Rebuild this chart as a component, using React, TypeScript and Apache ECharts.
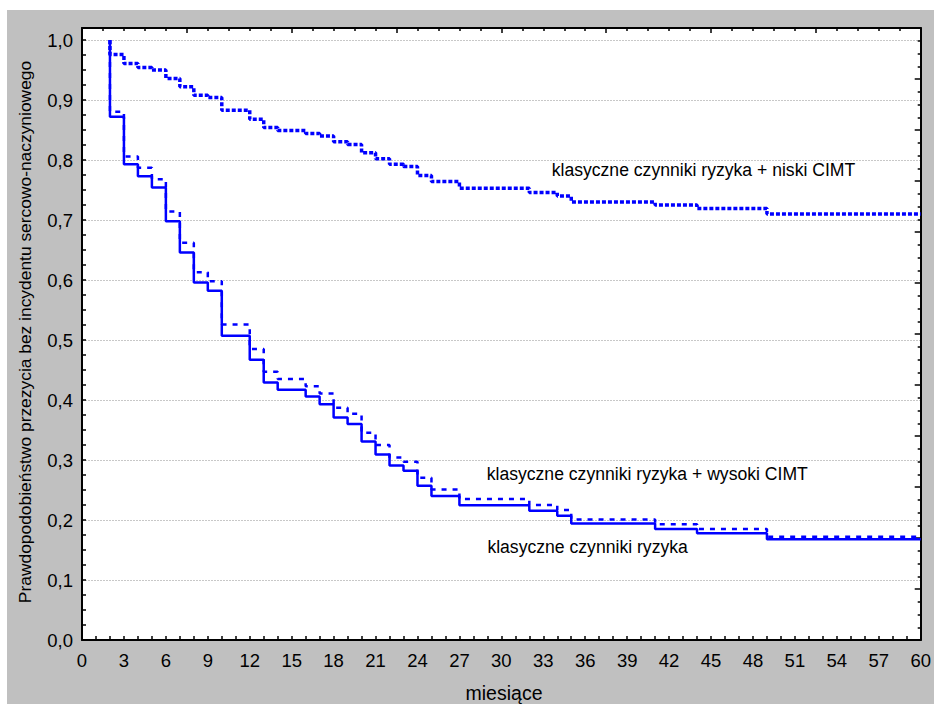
import React, { useEffect, useRef } from "react";
import * as echarts from "echarts";

// Czas (miesiące) w którym zmienia się krzywa przeżycia
const months = [2, 2, 3, 4, 5, 6, 7, 8, 9, 10, 12, 13, 14, 16, 17, 18, 19, 20, 21, 22, 23, 24, 25, 27, 32, 34, 35, 41, 44, 49, 60];

// klasyczne czynniki ryzyka (linia ciągła)
const survClassic = [1.0, 0.872, 0.793, 0.773, 0.754, 0.698, 0.646, 0.596, 0.582, 0.507, 0.467, 0.429, 0.417, 0.406, 0.393, 0.371, 0.36, 0.331, 0.309, 0.291, 0.282, 0.257, 0.24, 0.2245, 0.2155, 0.207, 0.194, 0.185, 0.178, 0.168, 0.168];

// klasyczne czynniki ryzyka + wysoki CIMT (linia przerywana)
const survHighCimt = [1.0, 0.8805, 0.806, 0.787, 0.768, 0.714, 0.662, 0.613, 0.598, 0.526, 0.485, 0.447, 0.435, 0.423, 0.411, 0.387, 0.377, 0.3455, 0.325, 0.304, 0.297, 0.2705, 0.251, 0.235, 0.225, 0.2167, 0.201, 0.193, 0.185, 0.172, 0.172];

// klasyczne czynniki ryzyka + niski CIMT (linia kropkowana)
const survLowCimt = [1.0, 0.976, 0.961, 0.954, 0.95, 0.936, 0.922, 0.908, 0.904, 0.883, 0.868, 0.854, 0.849, 0.844, 0.84, 0.8305, 0.826, 0.812, 0.802, 0.793, 0.789, 0.774, 0.764, 0.753, 0.746, 0.74, 0.73, 0.725, 0.719, 0.71, 0.71];

const seriesNames = [
  "klasyczne czynniki ryzyka",
  "klasyczne czynniki ryzyka + wysoki CIMT",
  "klasyczne czynniki ryzyka + niski CIMT",
];

const yTitle = "Prawdopodobieństwo przezycia bez incydentu sercowo-naczyniowego";
const xTitle = "miesiące";

// anchors of curve labels, in data units (months, probability)
const labelAnchors = [
  { name: seriesNames[2], t: 33.6, v: 0.783 },
  { name: seriesNames[1], t: 28.95, v: 0.276 },
  { name: seriesNames[0], t: 29.0, v: 0.155 },
];

const FONT = "'Liberation Sans', Arial, sans-serif";

function pairs(ys: number[]) {
  return months.map((m, i) => [m, ys[i]]);
}

export default function App() {
  const ref = useRef<HTMLDivElement>(null);

  useEffect(() => {
    if (!ref.current) return;
    const chart = echarts.init(ref.current, undefined, { renderer: "svg" });
    const blue = "#0000ff";
    const option: any = {
      animation: false,
      backgroundColor: "transparent",
      textStyle: { fontFamily: FONT },
      grid: {
        left: 75,
        top: 18,
        right: 8,
        bottom: 64,
        show: true,
        backgroundColor: "#ffffff",
        borderWidth: 0,
      },
      xAxis: [
        {
          type: "value",
          position: "bottom",
          min: 0,
          max: 60,
          interval: 3,
          axisLine: { show: true, onZero: false, lineStyle: { color: "#000", width: 2 } },
          axisTick: { show: true, inside: true, length: 4, lineStyle: { color: "#000", width: 1.5 } },
          minorTick: { show: true, splitNumber: 3, length: 4, lineStyle: { color: "#000", width: 1.5 } },
          axisLabel: { color: "#000", fontSize: 18.5, fontFamily: FONT, margin: 11 },
          splitLine: { show: false },
        },
        {
          type: "value",
          position: "top",
          min: 0,
          max: 60,
          interval: 7.5,
          axisLine: { show: true, onZero: false, lineStyle: { color: "#000", width: 2 } },
          axisTick: { show: true, inside: true, length: 5, lineStyle: { color: "#000", width: 1.5 } },
          minorTick: { show: true, splitNumber: 5, length: 3, lineStyle: { color: "#000", width: 1.5 } },
          axisLabel: { show: false },
          splitLine: { show: false },
        },
      ],
      yAxis: [
        {
          type: "value",
          position: "left",
          min: 0,
          max: 1.02,
          interval: 0.1,
          axisLine: { show: true, onZero: false, lineStyle: { color: "#000", width: 2 } },
          axisTick: { show: true, inside: true, length: 4, lineStyle: { color: "#000", width: 1.5 } },
          minorTick: { show: true, splitNumber: 4, length: 4, lineStyle: { color: "#000", width: 1.5 } },
          axisLabel: {
            color: "#000",
            fontSize: 18.5,
            fontFamily: FONT,
            margin: 9,
            showMaxLabel: false,
            formatter: (v: number) => (v > 1.001 ? "" : v.toFixed(1).replace(".", ",")),
          },
          splitLine: { show: true, lineStyle: { color: "#c8c8c8", width: 1, type: [2, 1] } },
        },
        {
          type: "value",
          position: "right",
          min: 0,
          max: 12,
          interval: 1,
          axisLine: { show: true, onZero: false, lineStyle: { color: "#000", width: 2 } },
          axisTick: { show: true, inside: true, length: 6, lineStyle: { color: "#000", width: 1.5 } },
          minorTick: { show: true, splitNumber: 4, length: 3, lineStyle: { color: "#000", width: 1.5 } },
          axisLabel: { show: false },
          splitLine: { show: false },
        },
      ],
      series: [
        {
          name: seriesNames[2],
          type: "line",
          step: "end",
          data: pairs(survLowCimt),
          showSymbol: false,
          lineStyle: { color: blue, width: 3.5, type: [4, 2] },
          z: 3,
        },
        {
          name: seriesNames[1],
          type: "line",
          step: "end",
          data: pairs(survHighCimt),
          showSymbol: false,
          lineStyle: { color: blue, width: 2.5, type: [5, 6] },
          z: 3,
        },
        {
          name: seriesNames[0],
          type: "line",
          step: "end",
          data: pairs(survClassic),
          showSymbol: false,
          lineStyle: { color: blue, width: 2.5 },
          z: 4,
        },
      ],
    };
    chart.setOption(option);

    const texts = labelAnchors.map((a) => {
      const p = chart.convertToPixel({ xAxisIndex: 0, yAxisIndex: 0 }, [a.t, a.v]) as number[];
      return {
        type: "text",
        x: p[0],
        y: p[1],
        z: 10,
        style: {
          text: a.name,
          fill: "#000",
          font: `17.6px ${FONT}`,
          textAlign: "left",
          textVerticalAlign: "middle",
        },
      };
    });

    chart.setOption({
      graphic: [
        ...texts,
        {
          type: "text",
          x: 18,
          y: 322,
          rotation: Math.PI / 2,
          style: {
            text: yTitle,
            fill: "#000",
            font: `17.4px ${FONT}`,
            textAlign: "center",
            textVerticalAlign: "middle",
          },
        },
        {
          type: "text",
          x: 497,
          y: 683,
          style: {
            text: xTitle,
            fill: "#000",
            font: `19.5px ${FONT}`,
            textAlign: "center",
            textVerticalAlign: "middle",
          },
        },
      ],
    });

    return () => chart.dispose();
  }, []);

  return (
    <div style={{ position: "absolute", left: 0, top: 0, width: 934, height: 704, background: "#fff" }}>
      <div
        ref={ref}
        style={{ position: "absolute", left: 7, top: 10, width: 927, height: 694, background: "#c0c0c0" }}
      />
    </div>
  );
}
